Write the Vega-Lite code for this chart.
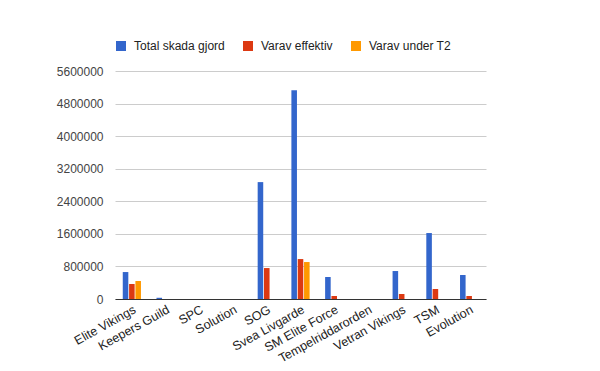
{
  "$schema": "https://vega.github.io/schema/vega-lite/v6.json",
  "width": 371,
  "height": 228,
  "autosize": {"type": "none"},
  "padding": {"left": 115, "top": 71, "right": 114, "bottom": 72},
  "background": "white",
  "config": {
    "font": "Liberation Sans",
    "view": {"stroke": null}
  },
  "data": {
    "values": [
      {"team": "Elite Vikings", "series": "Total skada gjord", "value": 662000},
      {"team": "Elite Vikings", "series": "Varav effektiv", "value": 368000},
      {"team": "Elite Vikings", "series": "Varav under T2", "value": 442000},
      {"team": "Keepers Guild", "series": "Total skada gjord", "value": 30000},
      {"team": "Keepers Guild", "series": "Varav effektiv", "value": 0},
      {"team": "Keepers Guild", "series": "Varav under T2", "value": 0},
      {"team": "SPC", "series": "Total skada gjord", "value": 0},
      {"team": "SPC", "series": "Varav effektiv", "value": 0},
      {"team": "SPC", "series": "Varav under T2", "value": 0},
      {"team": "Solution", "series": "Total skada gjord", "value": 0},
      {"team": "Solution", "series": "Varav effektiv", "value": 0},
      {"team": "Solution", "series": "Varav under T2", "value": 0},
      {"team": "SOG", "series": "Total skada gjord", "value": 2871000},
      {"team": "SOG", "series": "Varav effektiv", "value": 760000},
      {"team": "SOG", "series": "Varav under T2", "value": 0},
      {"team": "Svea Livgarde", "series": "Total skada gjord", "value": 5129000},
      {"team": "Svea Livgarde", "series": "Varav effektiv", "value": 981000},
      {"team": "Svea Livgarde", "series": "Varav under T2", "value": 908000},
      {"team": "SM Elite Force", "series": "Total skada gjord", "value": 540000},
      {"team": "SM Elite Force", "series": "Varav effektiv", "value": 74000},
      {"team": "SM Elite Force", "series": "Varav under T2", "value": 0},
      {"team": "Tempelriddarorden", "series": "Total skada gjord", "value": 0},
      {"team": "Tempelriddarorden", "series": "Varav effektiv", "value": 0},
      {"team": "Tempelriddarorden", "series": "Varav under T2", "value": 0},
      {"team": "Vetran Vikings", "series": "Total skada gjord", "value": 687000},
      {"team": "Vetran Vikings", "series": "Varav effektiv", "value": 123000},
      {"team": "Vetran Vikings", "series": "Varav under T2", "value": 0},
      {"team": "TSM", "series": "Total skada gjord", "value": 1620000},
      {"team": "TSM", "series": "Varav effektiv", "value": 245000},
      {"team": "TSM", "series": "Varav under T2", "value": 0},
      {"team": "Evolution", "series": "Total skada gjord", "value": 589000},
      {"team": "Evolution", "series": "Varav effektiv", "value": 74000},
      {"team": "Evolution", "series": "Varav under T2", "value": 0}
    ]
  },
  "mark": {"type": "bar"},
  "encoding": {
    "x": {
      "field": "team",
      "type": "nominal",
      "sort": null,
      "scale": {"paddingInner": 0.46, "paddingOuter": 0.23},
      "axis": {
        "title": null,
        "labelAngle": -29,
        "labelAlign": "right",
        "labelBaseline": "top",
        "labelFontSize": 12.5,
        "labelColor": "#222222",
        "labelPadding": 4,
        "ticks": false,
        "domainColor": "#333333",
        "domainWidth": 1,
        "grid": false,
        "zindex": 1
      }
    },
    "xOffset": {
      "field": "series",
      "type": "nominal",
      "scale": {"paddingInner": 0.12}
    },
    "y": {
      "field": "value",
      "type": "quantitative",
      "scale": {"domain": [0, 5600000], "nice": false},
      "axis": {
        "title": null,
        "values": [0, 800000, 1600000, 2400000, 3200000, 4000000, 4800000, 5600000],
        "format": "d",
        "labelFontSize": 12,
        "labelColor": "#444444",
        "labelPadding": 12,
        "ticks": false,
        "domain": false,
        "gridColor": "#cccccc",
        "gridWidth": 1
      }
    },
    "color": {
      "field": "series",
      "type": "nominal",
      "scale": {
        "domain": ["Total skada gjord", "Varav effektiv", "Varav under T2"],
        "range": ["#3366cc", "#dc3912", "#ff9900"]
      },
      "legend": {
        "title": null,
        "orient": "none",
        "direction": "horizontal",
        "legendX": 0,
        "legendY": -31,
        "symbolType": "square",
        "symbolSize": 100,
        "symbolStrokeWidth": 0,
        "symbolOpacity": 1,
        "labelFontSize": 12,
        "labelColor": "#222222",
        "labelOffset": 7,
        "columnPadding": 17
      }
    }
  }
}
